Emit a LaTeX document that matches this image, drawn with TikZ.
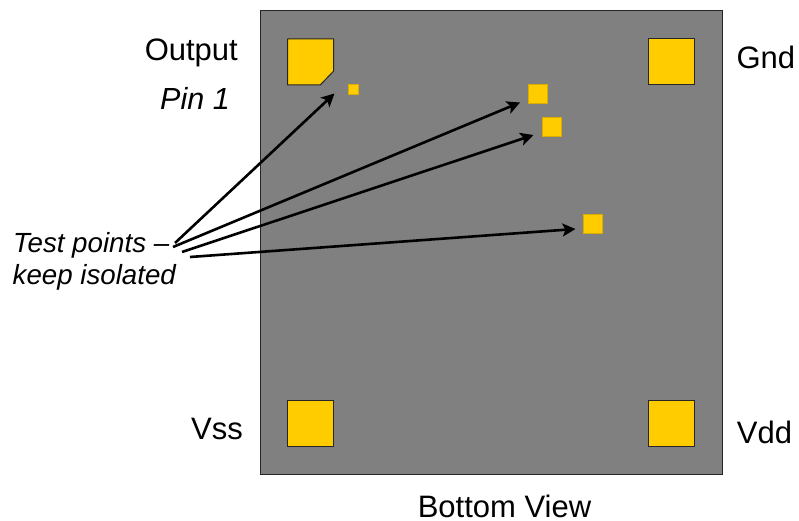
\documentclass[tikz,border=0pt]{standalone}
\usepackage{fontspec}
\setmainfont{Liberation Sans}
\usetikzlibrary{arrows.meta}
\definecolor{padyellow}{HTML}{FFCC00}
\definecolor{bodygray}{HTML}{808080}
\tikzset{
  lab/.style={inner sep=0pt,font=\fontsize{31}{36}\selectfont,text=black},
  ilab/.style={lab,font=\fontsize{27.7}{33}\selectfont\itshape},
  pinlab/.style={lab,font=\fontsize{30.5}{36}\selectfont\itshape},
  pad/.style={draw=black!85,line width=1pt,fill=padyellow,minimum size=46pt,inner sep=0pt},
  tp/.style={draw=padyellow!85!black,line width=.6pt,fill=padyellow,inner sep=0pt},
  lead/.style={draw=black,line width=2.6pt,-{Stealth[length=13pt,width=13pt,inset=3pt]},shorten >=0pt},
}
\begin{document}
\begin{tikzpicture}[x=1pt,y=-1pt]
\useasboundingbox (0,0) rectangle (799,521);
\node[draw=black!85,line width=1pt,fill=bodygray,minimum width=462pt,minimum height=463pt,inner sep=0pt] (body) at (491.7,242.5) {};
\draw[draw=black!85,line width=1pt,fill=padyellow,line join=round] (287.7,39) -- (333.7,39) -- (333.7,71) -- (320.2,85) -- (287.7,85) -- cycle;
\node[pad] (gnd) at (671.7,62) {};
\node[pad] (vss) at (310.7,423) {};
\node[pad] (vdd) at (671.7,423) {};
\node[tp,minimum size=10pt] (tpa) at (352.8,89.5) {};
\node[tp,minimum size=19pt] (tpb) at (537.3,94.3) {};
\node[tp,minimum size=19pt] (tpc) at (551.3,126.8) {};
\node[tp,minimum size=19pt] (tpd) at (592.8,224) {};
\node[lab,anchor=base] (out) at (191.3,60.5) {Output};
\node[pinlab,anchor=base] (pin) at (195,110) {Pin 1};
\node[lab,anchor=base] (gndl) at (765.8,69) {Gnd};
\node[lab,anchor=base] (vssl) at (217,439) {Vss};
\node[lab,anchor=base] (vddl) at (764.5,443.5) {Vdd};
\node[lab,anchor=base] (bv) at (504.5,517) {Bottom View};
\node[ilab,anchor=base west] (tl1) at (13,252) {Test points –};
\node[ilab,anchor=base west] (tl2) at (12.5,284) {keep isolated};
\coordinate (sa) at (175,243);
\coordinate (sb) at (173,247);
\coordinate (sc) at (182,252);
\coordinate (sd) at (190,257);
\coordinate (ea) at (334.5,93.5);
\coordinate (eb) at (520,102.5);
\coordinate (ec) at (533.5,135);
\coordinate (ed) at (575.5,229);
\draw[lead] (sa) -- (ea);
\draw[lead] (sb) -- (eb);
\draw[lead] (sc) -- (ec);
\draw[lead] (sd) -- (ed);
\end{tikzpicture}
\end{document}
